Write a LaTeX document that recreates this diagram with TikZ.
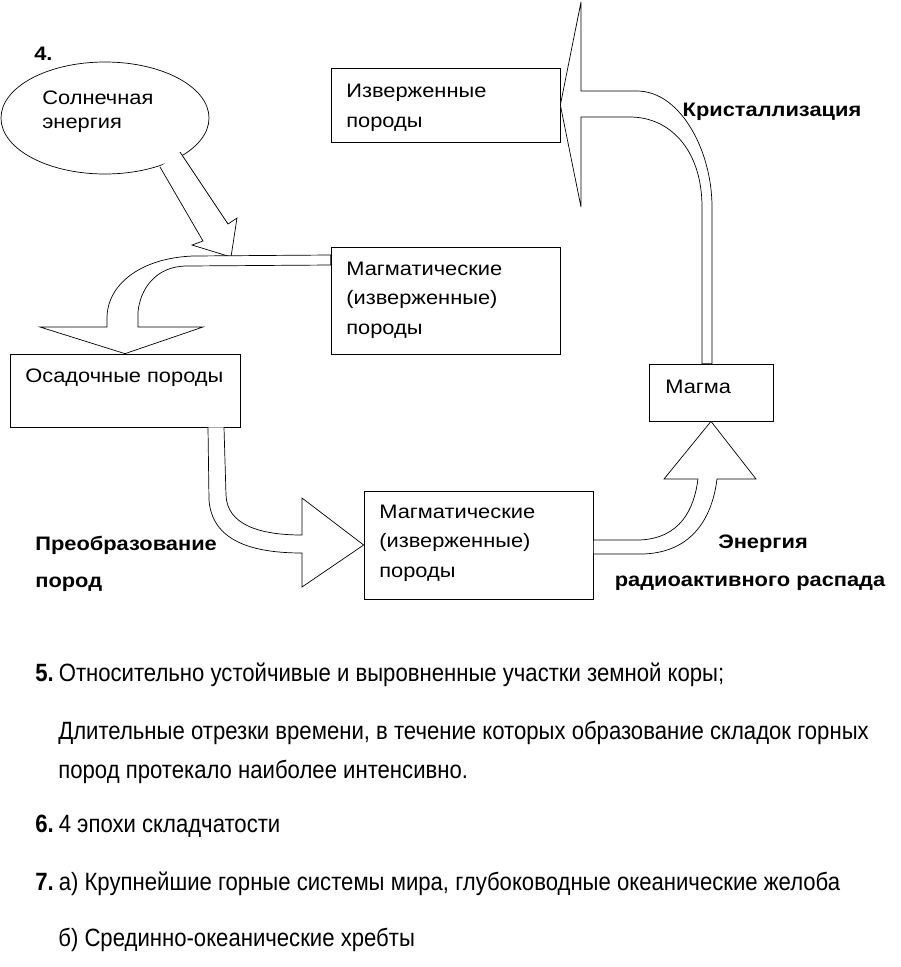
\documentclass[tikz,border=0pt]{standalone}
\usepackage{fontspec}
\setmainfont{Liberation Sans}
\newfontfamily\diafont[FakeStretch=1.12]{Liberation Sans}
\newfontfamily\listfont[FakeStretch=0.885]{Liberation Sans}
\usetikzlibrary{shapes.geometric}

\begin{document}
\begin{tikzpicture}[x=1pt,y=-1pt,line width=0.7pt,
every node/.style={inner sep=0pt,font=\diafont\fontsize{19.5}{29.5}\selectfont},
rockbox/.style={draw,fill=white},
sunoval/.style={draw,fill=white,ellipse},
blockarrow/.style={draw,fill=white,line join=miter},
boxtext/.style={anchor=base west,align=left},
cyclelabel/.style={font=\diafont\bfseries\fontsize{19.5}{29.5}\selectfont},
answerline/.style={anchor=base west,font=\listfont\fontsize{25}{28}\selectfont}]
\useasboundingbox (0,0) rectangle (901,967);

% rock cycle
\node[cyclelabel,anchor=base west] (num4) at (34,60) {4.};
\node[sunoval,minimum width=208,minimum height=112] (sun) at (105,118) {};
\node[rockbox,minimum width=229,minimum height=74] (igneous) at (445.5,105) {};
\node[rockbox,minimum width=229,minimum height=107] (magmatic) at (445.5,300.5) {};
\node[rockbox,minimum width=230,minimum height=73] (sediment) at (125,390.5) {};
\node[rockbox,minimum width=124,minimum height=57] (magma) at (711,392.5) {};
\node[rockbox,minimum width=229,minimum height=108] (metamorph) at (478.5,545) {};

% block arrows
\draw[blockarrow] (160,167) -- (203,241) -- (192,245) -- (231,257) -- (237,218) -- (228,224) -- (180,152);
\draw[blockarrow] (magmatic.west |- 0,255) -- (193,256) .. controls (140,258) and (107,285) .. (107,318)
  -- (107,327) -- (40,327) -- (sediment.north) -- (203,327) -- (138,327) -- (138,312)
  .. controls (140,290) and (155,266) .. (187,266) -- (magmatic.west |- 0,265) -- cycle;
\draw[blockarrow] (igneous.east) -- (581,2) -- (581,91) -- (637,91) .. controls (680,91) and (712,150) .. (712,207)
  -- (magma.north -| 712,0) -- (magma.north -| 702,0) -- (702,207) .. controls (702,150) and (670,117) .. (630,117)
  -- (581,117) -- (581,207) -- cycle;
\draw[blockarrow] (magma.south) -- (756,479) -- (717,479) .. controls (712,520) and (690,554) .. (640,554)
  -- (metamorph.east |- 0,554) -- (metamorph.east |- 0,540) -- (640,540) .. controls (680,538) and (694,510) .. (698,479)
  -- (664,479) -- cycle;
\draw[blockarrow] (sediment.south -| 208,0) -- (209,500) .. controls (212,540) and (250,553) .. (302,553)
  -- (302,587) -- (metamorph.west) -- (302,498) -- (302,535) .. controls (260,535) and (227,525) .. (226,495)
  -- (sediment.south -| 224,0);

% texts in the boxes (base = last line)
\node[boxtext] (suntext) at (42,128) {Солнечная\\[-6pt]энергия};
\node[boxtext] (igneoustext) at (346,127) {Изверженные\\породы};
\node[boxtext] (magmatictext) at (346,334) {Магматические\\(изверженные)\\породы};
\node[boxtext] (sedimenttext) at (25,382) {Осадочные породы};
\node[boxtext] (magmatext) at (665,393) {Магма};
\node[boxtext] (metamorphtext) at (379,577) {Магматические\\(изверженные)\\породы};

% process labels
\node[cyclelabel,anchor=base] (crystal) at (772,116) {Кристаллизация};
\node[cyclelabel,anchor=base] (energy) at (763,548) {Энергия};
\node[cyclelabel,anchor=base] (decay) at (750,586) {радиоактивного распада};
\node[cyclelabel,anchor=base west] (transform) at (35,550) {Преобразование};
\node[cyclelabel,anchor=base west] (rocks) at (35,587) {пород};

% answers
\node[answerline] (ans5) at (35,681) {\textbf{5.}\hspace{5pt}Относительно устойчивые и выровненные участки земной коры;};
\node[answerline] (ans5b) at (58,739) {Длительные отрезки времени, в течение которых образование складок горных};
\node[answerline] (ans5c) at (58,778) {пород протекало наиболее интенсивно.};
\node[answerline] (ans6) at (35,832) {\textbf{6.}\hspace{5pt}4 эпохи складчатости};
\node[answerline] (ans7) at (35,890) {\textbf{7.}\hspace{5pt}а) Крупнейшие горные системы мира, глубоководные океанические желоба};
\node[answerline] (ans7b) at (58,946) {б) Срединно-океанические хребты};
\end{tikzpicture}
\end{document}
